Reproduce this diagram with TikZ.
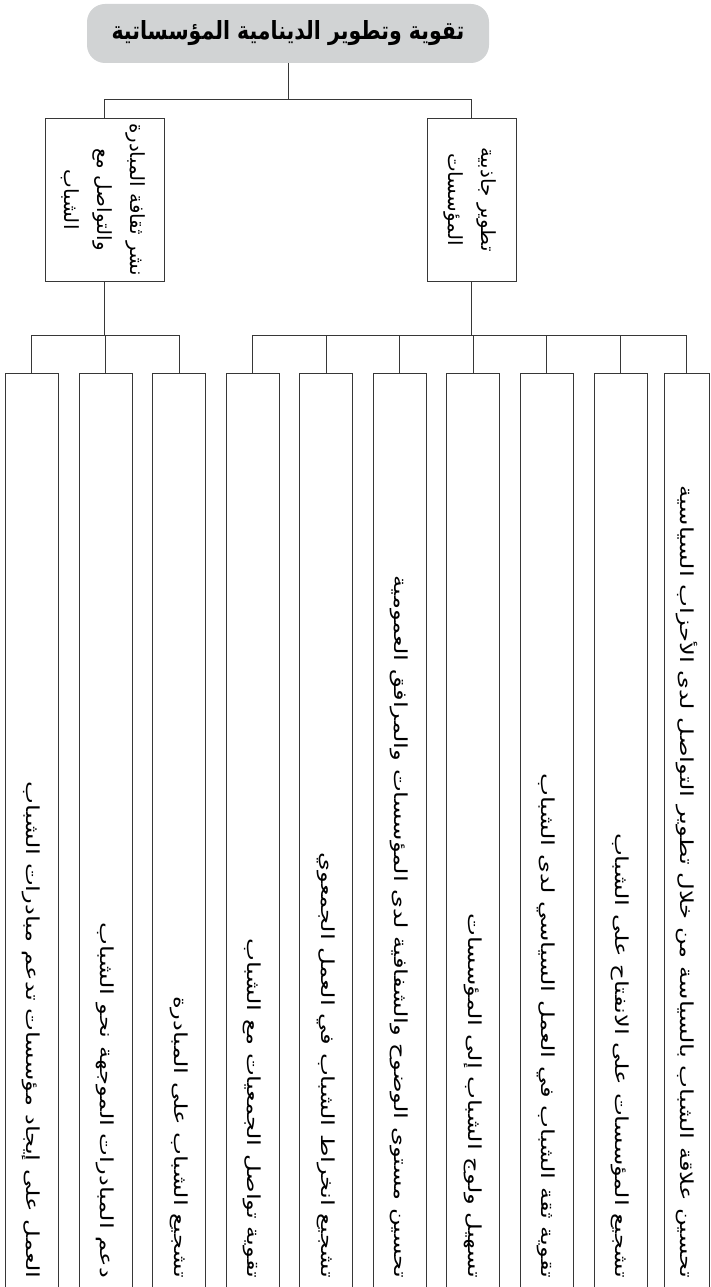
\documentclass[tikz,border=0pt]{standalone}
\usepackage{fontspec}
\newfontfamily\rootfont[Script=Arabic,FakeStretch=0.82]{DejaVu Sans}
\newfontfamily\midfont[Script=Arabic,FakeStretch=1.02]{DejaVu Sans}
\newfontfamily\leaffont[Script=Arabic,FakeStretch=1.35]{DejaVu Sans}
\TeXXeTstate=1
\definecolor{topgray}{RGB}{209,211,212}
\definecolor{linegray}{RGB}{55,55,55}
\tikzset{
  topbox/.style={fill=topgray, rounded corners=18pt, minimum width=402pt, minimum height=59pt, inner sep=0pt,
    font=\rootfont\bfseries\fontsize{25}{29}\selectfont},
  midbox/.style={draw=linegray, line width=0.9pt, inner sep=0pt, minimum height=163pt,
    font=\midfont\fontsize{19.5}{33}\selectfont},
  leafbox/.style={draw=linegray, line width=0.9pt, inner sep=0pt, minimum width=53pt, minimum height=934pt},
  leaftext/.style={rotate=-90, anchor=east, inner sep=0pt, font=\leaffont\fontsize{18}{22}\selectfont},
  link/.style={draw=linegray, line width=0.9pt}
}

\begin{document}
\begin{tikzpicture}[x=1pt,y=1pt]
\useasboundingbox (0,0) rectangle (710,1287);

% root
\node[topbox] (root) at (288,1253.5) {\beginR تقوية وتطوير الدينامية المؤسساتية\endR};

% second level
\node[midbox, minimum width=119pt] (midL) at (104.5,1087.5)
  {\rotatebox{-90}{\begin{tabular}{@{}c@{}}\beginR نشر ثقافة المبادرة\endR\\ \beginR والتواصل مع\endR\\ \beginR الشباب\endR\end{tabular}}};
\node[midbox, minimum width=89pt] (midR) at (471.5,1087.5)
  {\rotatebox{-90}{\begin{tabular}{@{}c@{}}\beginR تطوير جاذبية\endR\\ \beginR المؤسسات\endR\end{tabular}}};

\draw[link] (root.south) -- ++(0,-36) -| (midL.north);
\draw[link] (root.south) -- ++(0,-36) -| (midR.north);

% leaves
\foreach \i/\x/\w/\txt in {
  1/31.5/53/{العمل على إيجاد مؤسسات تدعم مبادرات الشباب},
  2/105.5/53/{دعم المبادرات الموجهة نحو الشباب},
  3/179/53/{تشجيع الشباب على المبادرة},
  4/252.5/53/{تقوية تواصل الجمعيات مع الشباب},
  5/326/53/{تشجيع انخراط الشباب في العمل الجمعوي},
  6/399.5/53/{تحسين مستوى الوضوح والشفافية لدى المؤسسات والمرافق العمومية},
  7/473/53/{تسهيل ولوج الشباب إلى المؤسسات},
  8/546.5/53/{تقوية ثقة الشباب في العمل السياسي لدى الشباب},
  9/620.5/53/{تشجيع المؤسسات على الانفتاح على الشباب},
  10/686.5/45/{تحسين علاقة الشباب بالسياسة من خلال تطوير التواصل لدى الأحزاب السياسية}}
{
  \node[leafbox, minimum width=\w pt] (leaf\i) at (\x,447) {};
  \node[leaftext] (lab\i) at ([yshift=29pt]leaf\i.south) {\beginR\txt\endR};
}

\foreach \i in {1,2,3}
  \draw[link] (midL.south) -- ++(0,-54) -| (leaf\i.north);
\foreach \i in {4,...,10}
  \draw[link] (midR.south) -- ++(0,-54) -| (leaf\i.north);
\end{tikzpicture}
\end{document}
